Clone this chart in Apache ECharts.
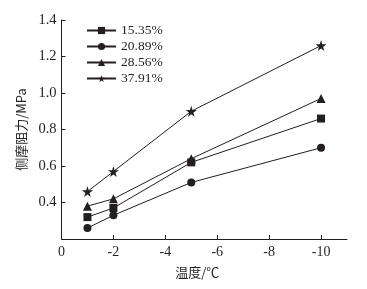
<!DOCTYPE html>
<html>
<head>
<meta charset="utf-8">
<script src="https://cdn.jsdelivr.net/npm/echarts@6/dist/echarts.min.js"></script>
<style>
html, body { margin: 0; padding: 0; background: #fff; }
#main { width: 367px; height: 289px; }
</style>
</head>
<body>
<div id="main"></div>
<script>
// 温度 (℃) 与 各含水率下的侧摩阻力 (MPa)
var temps = [-1, -2, -5, -10];
var seriesNames = ['15.35%', '20.89%', '28.56%', '37.91%'];
var s1535 = [0.32, 0.37, 0.62, 0.86];
var s2089 = [0.26, 0.33, 0.51, 0.70];
var s2856 = [0.38, 0.42, 0.64, 0.97];
var s3791 = [0.46, 0.57, 0.90, 1.26];
var xTicks = [0, -2, -4, -6, -8, -10];
var symbols = ['rect', 'circle', 'triangle', 'path://M50,0 L61,35 L98,35 L68,57 L79,91 L50,70 L21,91 L32,57 L2,35 L39,35 Z'];
var sizes = [8, 8, 9, 11];

var ink = '#231f20';
var font = '"Liberation Serif", "Times New Roman", serif';
var cjk = '"Noto Sans CJK SC", sans-serif';

function pairs(arr) {
    var out = [];
    for (var i = 0; i < temps.length; i++) {
        out.push([temps[i], arr[i]]);
    }
    return out;
}

var allData = [s1535, s2089, s2856, s3791];
var series = [];
for (var k = 0; k < allData.length; k++) {
    series.push({
        name: seriesNames[k],
        type: 'line',
        data: pairs(allData[k]),
        symbol: symbols[k],
        symbolSize: sizes[k],
        lineStyle: { color: ink, width: 1 },
        itemStyle: { color: ink },
        animation: false
    });
}

var myChart = echarts.init(document.getElementById('main'));
var option = {
    backgroundColor: '#fff',
    grid: { left: 61.5, right: 20, top: 20, bottom: 50 },
    legend: {
        data: seriesNames,
        orient: 'vertical',
        left: 86,
        top: 23.5,
        padding: 0,
        itemWidth: 29,
        itemHeight: 9,
        itemGap: 2,
        textStyle: { fontFamily: font, fontSize: 13.5, color: ink }
    },
    xAxis: {
        type: 'value',
        inverse: true,
        min: -11,
        max: 0,
        name: '温度/℃',
        nameLocation: 'middle',
        nameGap: 27,
        nameTextStyle: { fontFamily: cjk, fontSize: 13, color: ink, padding: [0, 14, 0, 0] },
        axisLine: { lineStyle: { color: ink, width: 1 } },
        axisTick: { inside: true, length: 4, lineStyle: { color: ink }, customValues: xTicks },
        axisLabel: { fontFamily: font, fontSize: 14, color: ink, margin: 6, customValues: xTicks },
        splitLine: { show: false }
    },
    yAxis: {
        type: 'value',
        min: 0.2,
        max: 1.4,
        interval: 0.2,
        name: '侧摩阻力/MPa',
        nameLocation: 'middle',
        nameGap: 32,
        nameTextStyle: { fontFamily: cjk, fontSize: 13, color: ink },
        axisLine: { show: true, lineStyle: { color: ink, width: 1 } },
        axisTick: { show: true, inside: true, length: 4, lineStyle: { color: ink } },
        axisLabel: {
            fontFamily: font, fontSize: 14.5, color: ink, margin: 5, showMinLabel: false,
            formatter: function (v) { return v.toFixed(1); }
        },
        splitLine: { show: false }
    },
    series: series
};
myChart.setOption(option);
</script>
</body>
</html>
